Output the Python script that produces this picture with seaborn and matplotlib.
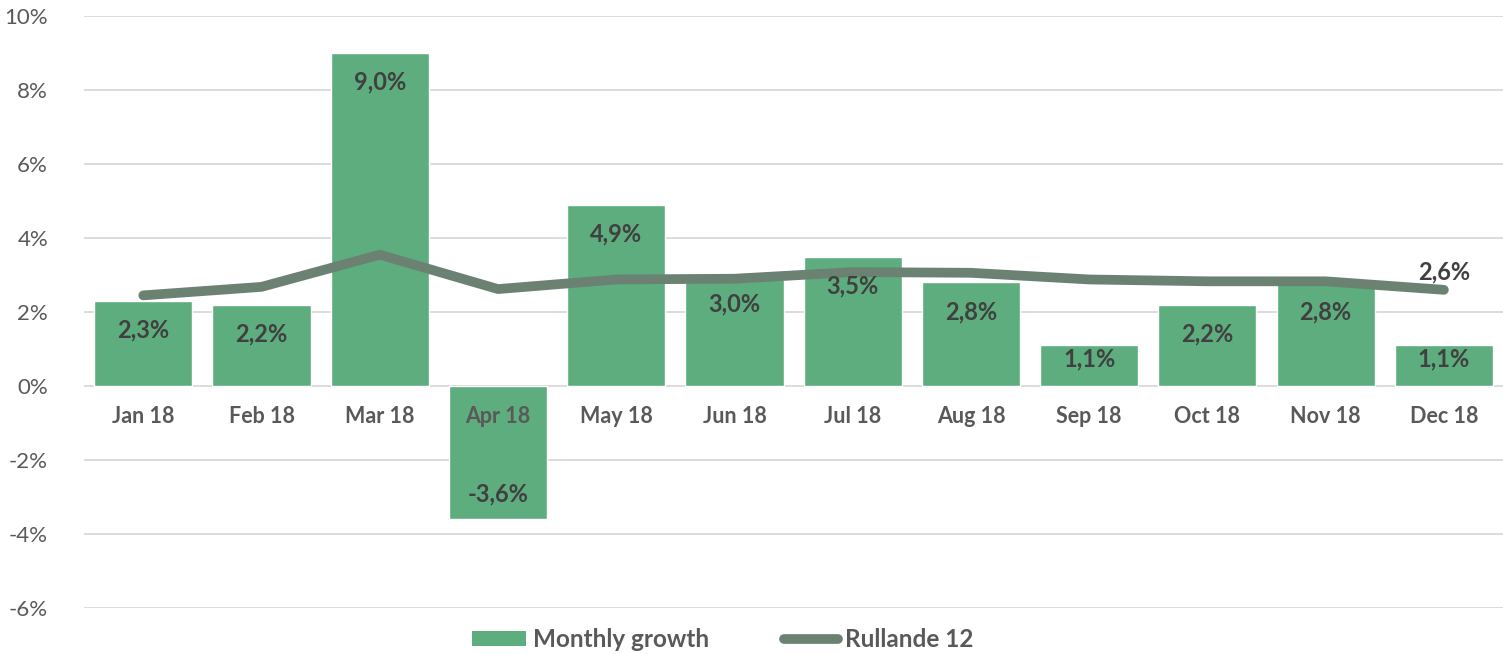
import numpy as np
import pandas as pd
import matplotlib
matplotlib.use("Agg")
import matplotlib.pyplot as plt
import seaborn as sns
from matplotlib.lines import Line2D
from matplotlib.patches import Patch

months = ["Jan 18", "Feb 18", "Mar 18", "Apr 18", "May 18", "Jun 18",
          "Jul 18", "Aug 18", "Sep 18", "Oct 18", "Nov 18", "Dec 18"]
monthly_growth = [2.3, 2.2, 9.0, -3.6, 4.9, 3.0, 3.5, 2.8, 1.1, 2.2, 2.8, 1.1]
rolling_12 = [2.45, 2.68, 3.55, 2.62, 2.88, 2.9, 3.08, 3.06, 2.88, 2.83, 2.83, 2.6]
y_ticks = [-6, -4, -2, 0, 2, 4, 6, 8, 10]

BAR_COLOR = "#5DAD7E"
LINE_COLOR = "#6B8273"
LABEL_COLOR = "#404040"
TICK_COLOR = "#595959"

sns.set_theme(style="white")
plt.rcParams["font.family"] = ["Lato", "DejaVu Sans"]
plt.rcParams["axes.unicode_minus"] = False

df = pd.DataFrame({"month": months, "growth": monthly_growth, "rolling": rolling_12})

fig = plt.figure(figsize=(15.03, 6.54), dpi=100)
ax = fig.add_axes([0.056, 0.0703, 0.944, 0.9052])

sns.barplot(data=df, x="month", y="growth", color=BAR_COLOR, width=0.83,
            saturation=1, ax=ax, zorder=2)
sns.lineplot(data=df, x="month", y="rolling", color=LINE_COLOR, linewidth=7,
             sort=False, ax=ax, zorder=3, solid_capstyle="round",
             solid_joinstyle="round")

ax.set_ylim(-6, 10)
ax.set_xlim(-0.5, len(months) - 0.5)
ax.set_yticks(y_ticks)
ax.set_yticklabels([f"{v}%" for v in y_ticks], fontsize=16, color=TICK_COLOR)
ax.tick_params(axis="y", length=0, pad=26)
ax.set_xticks([])
ax.set_xlabel("")
ax.set_ylabel("")
for s in ax.spines.values():
    s.set_visible(False)
ax.yaxis.grid(True, color="#D9D9D9", linewidth=1.3)
ax.set_axisbelow(True)

# month labels just below the zero line, drawn over the bars
for i, m in enumerate(months):
    ax.annotate(m, (i, 0), xytext=(0, -22), textcoords="offset points",
                ha="center", va="center", fontsize=15.5, fontweight="bold",
                color=TICK_COLOR, zorder=5)

# bar value labels (inside end)
px_per_unit = ax.get_window_extent().height / 16
for i, v in enumerate(monthly_growth):
    h_px = abs(v) * px_per_unit
    off_px = min(29, h_px - 27) if v > 0 else 25
    off_pt = off_px * 72 / fig.dpi
    txt = f"{v:.1f}%".replace(".", ",")
    ax.annotate(txt, (i, v), xytext=(0, -off_pt if v > 0 else off_pt),
                textcoords="offset points", ha="center", va="center",
                fontsize=17, fontweight="bold", color=LABEL_COLOR, zorder=6)

last = len(months) - 1
ax.annotate(f"{rolling_12[last]:.1f}%".replace(".", ","), (last, rolling_12[last]),
            xytext=(0, 13), textcoords="offset points", ha="center", va="center",
            fontsize=17, fontweight="bold", color=LABEL_COLOR, zorder=6)

handles = [Patch(facecolor=BAR_COLOR, edgecolor="none"),
           Line2D([0], [0], color=LINE_COLOR, linewidth=7, solid_capstyle="round")]
leg = fig.legend(handles, ["Monthly growth", "Rullande 12"], loc="center",
                 bbox_to_anchor=(0.481, 0.022), ncol=2, frameon=False,
                 handlelength=2.2, handleheight=0.6, handletextpad=0.3,
                 columnspacing=3.1, prop={"size": 17.5, "weight": "bold"})
for t in leg.get_texts():
    t.set_color(TICK_COLOR)

fig.savefig("out.png", dpi=100)
